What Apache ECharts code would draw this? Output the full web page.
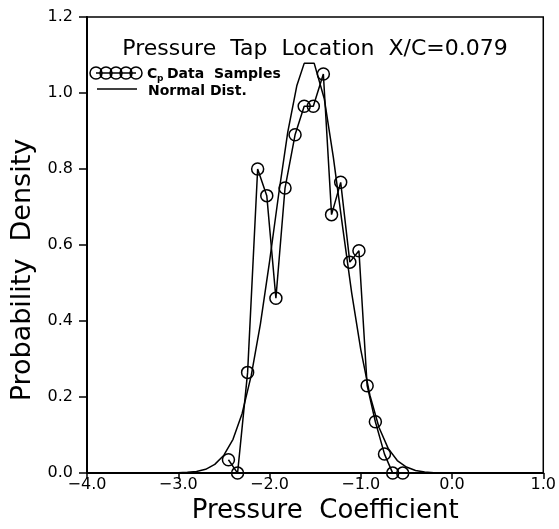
<!DOCTYPE html>
<html>
<head>
<meta charset="utf-8">
<script src="https://cdn.jsdelivr.net/npm/echarts@6/dist/echarts.min.js"></script>
<style>
  html, body { margin: 0; padding: 0; background: #fff; }
  #chart { width: 559px; height: 529px; }
</style>
</head>
<body>
<div id="chart"></div>
<script>
// Measured pressure-coefficient samples (histogram density)
const sampleCp = [-2.45, -2.35, -2.24, -2.13, -2.03, -1.93, -1.83, -1.72, -1.62, -1.52,
                  -1.41, -1.32, -1.22, -1.12, -1.02, -0.93, -0.84, -0.74, -0.65, -0.54];
const sampleDensity = [0.035, 0.0, 0.265, 0.80, 0.73, 0.46, 0.75, 0.89, 0.965, 0.965,
                       1.05, 0.68, 0.765, 0.555, 0.585, 0.23, 0.135, 0.05, 0.0, 0.0];

// Fitted normal distribution curve
const normalCp = [-4.5, -4.0, -3.5, -3.0, -2.9, -2.8, -2.7, -2.6, -2.5, -2.4, -2.3, -2.2,
                  -2.1, -2.0, -1.9, -1.8, -1.7, -1.62, -1.51, -1.4, -1.3, -1.2, -1.1, -1.0,
                  -0.9, -0.8, -0.7, -0.6, -0.5, -0.4, -0.3, -0.2, -0.1, 0.0, 0.5, 1.0];
const normalDensity = [0.0, 0.0, 0.0, 0.001, 0.002, 0.004, 0.010, 0.023, 0.047, 0.089, 0.157, 0.257,
                       0.392, 0.556, 0.733, 0.897, 1.02, 1.078, 1.078, 0.985, 0.830, 0.650, 0.475, 0.325,
                       0.205, 0.120, 0.065, 0.033, 0.016, 0.007, 0.003, 0.001, 0.0, 0.0, 0.0, 0.0];

const xTickLabels = ['\u22124.0', '\u22123.0', '\u22122.0', '\u22121.0', '0.0', '1.0'];
const yTickLabels = ['0.0', '0.2', '0.4', '0.6', '0.8', '1.0', '1.2'];

const titleText = 'Pressure  Tap  Location  X/C=0.079';
const xTitle = 'Pressure  Coefficient';
const yTitle = 'Probability  Density';

const FONT = 'DejaVu Sans';
const chart = echarts.init(document.getElementById('chart'), null, { renderer: 'canvas' });

const xMin = -4, xMax = 1, xStep = 1;
const yMin = 0, yMax = 1.2, yStep = 0.2;

const legendCircle = cx => ({
  type: 'circle', shape: { cx: cx, cy: 73, r: 6 },
  style: { fill: 'none', stroke: '#000', lineWidth: 1.5 }
});

chart.setOption({
  animation: false,
  backgroundColor: '#fff',
  title: {
    text: titleText,
    left: 310, top: 33, textAlign: 'center',
    textStyle: { fontFamily: FONT, fontSize: 22, fontWeight: 'normal', color: '#000' }
  },
  grid: {
    left: 87, right: 12, top: 17, bottom: 54,
    show: true, borderColor: '#000', borderWidth: 1.5, backgroundColor: 'transparent'
  },
  xAxis: {
    type: 'value', min: xMin, max: xMax, interval: xStep,
    name: xTitle, nameLocation: 'middle', nameGap: 24,
    nameTextStyle: { fontFamily: FONT, fontSize: 26, color: '#000', padding: [0, 0, 0, 20] },
    axisLine: { onZero: false, lineStyle: { color: '#000', width: 2 } },
    axisTick: { length: 6, lineStyle: { color: '#000', width: 1.5 } },
    axisLabel: {
      margin: 4, fontFamily: FONT, fontSize: 16, color: '#000',
      formatter: v => xTickLabels[Math.round((v - xMin) / xStep)]
    },
    splitLine: { show: false }
  },
  yAxis: {
    type: 'value', min: yMin, max: yMax, interval: yStep,
    name: yTitle, nameLocation: 'middle', nameGap: 42, nameRotate: 90,
    nameTextStyle: { fontFamily: FONT, fontSize: 27, color: '#000', padding: [0, 50, 0, 0] },
    axisLine: { onZero: false, lineStyle: { color: '#000', width: 2 } },
    axisTick: { length: 8, lineStyle: { color: '#000', width: 1.5 } },
    axisLabel: {
      margin: 14, fontFamily: FONT, fontSize: 16, color: '#000',
      formatter: v => yTickLabels[Math.round((v - yMin) / yStep)]
    },
    splitLine: { show: false }
  },
  series: [
    {
      name: 'Normal Dist.',
      type: 'line',
      data: normalCp.map((x, i) => [x, normalDensity[i]]),
      showSymbol: false, symbol: 'none',
      clip: false,
      lineStyle: { color: '#000', width: 1.5 },
      z: 2
    },
    {
      name: 'Cp Data Samples',
      type: 'line',
      data: sampleCp.map((x, i) => [x, sampleDensity[i]]),
      symbol: 'circle', symbolSize: 12,
      itemStyle: { color: 'rgba(255,255,255,0)', borderColor: '#000', borderWidth: 1.5 },
      lineStyle: { color: '#000', width: 1.5 },
      z: 3
    }
  ],
  graphic: [
    {
      type: 'group', x: 0, y: 0, silent: true,
      children: [
        { type: 'line', shape: { x1: 96, y1: 73, x2: 136, y2: 73 }, style: { stroke: '#000', lineWidth: 1.5 } },
        legendCircle(96), legendCircle(106), legendCircle(116), legendCircle(126), legendCircle(136),
        { type: 'text', style: { text: 'C', x: 147, y: 74, font: 'bold 14px ' + FONT, fill: '#000', verticalAlign: 'middle' } },
        { type: 'text', style: { text: 'p', x: 157, y: 79, font: 'bold 9px ' + FONT, fill: '#000', verticalAlign: 'middle' } },
        { type: 'text', style: { text: 'Data  Samples', x: 167, y: 74, font: 'bold 14px ' + FONT, fill: '#000', verticalAlign: 'middle' } },
        { type: 'line', shape: { x1: 97, y1: 89, x2: 137, y2: 89 }, style: { stroke: '#000', lineWidth: 1.5 } },
        { type: 'text', style: { text: 'Normal Dist.', x: 148, y: 91, font: 'bold 14px ' + FONT, fill: '#000', verticalAlign: 'middle' } }
      ]
    }
  ]
});
</script>
</body>
</html>
